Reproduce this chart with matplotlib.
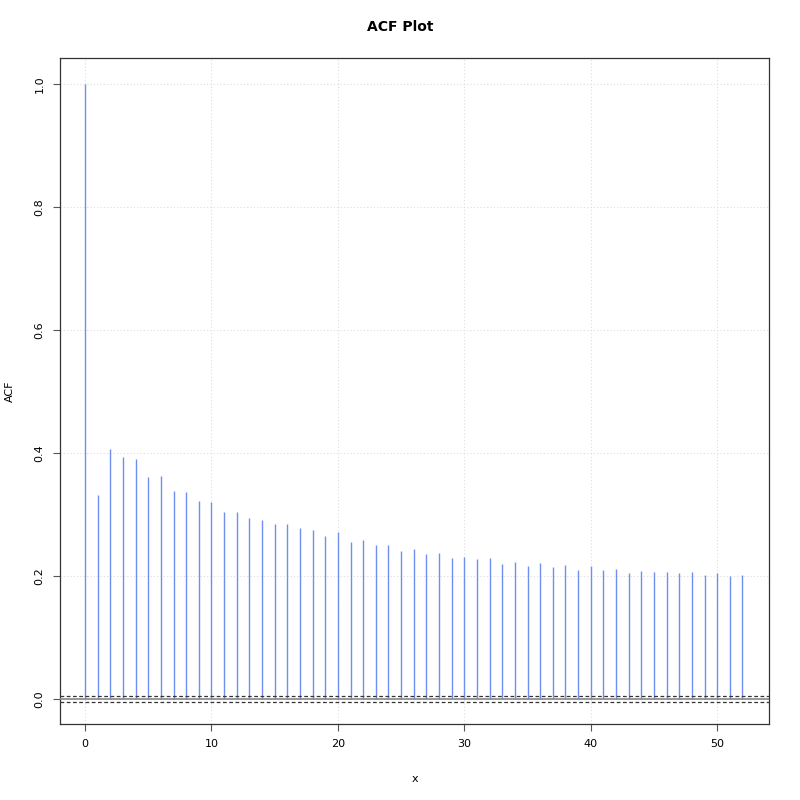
import matplotlib
matplotlib.use("Agg")
import matplotlib.pyplot as plt

# valores (lag 0..52)
lags = list(range(53))
acf = [1.0, 0.332, 0.407, 0.393, 0.390, 0.361, 0.363, 0.338, 0.337, 0.322,
       0.320, 0.304, 0.304, 0.294, 0.291, 0.285, 0.285, 0.278, 0.275, 0.265,
       0.272, 0.255, 0.259, 0.251, 0.251, 0.241, 0.244, 0.236, 0.237, 0.229,
       0.231, 0.228, 0.229, 0.220, 0.223, 0.216, 0.221, 0.214, 0.218, 0.210,
       0.216, 0.209, 0.211, 0.204, 0.208, 0.206, 0.206, 0.205, 0.206, 0.201,
       0.205, 0.200, 0.201]
conf = 0.005

fig = plt.figure(figsize=(8, 8), dpi=100)
ax = fig.add_axes([0.075, 0.095, 0.88625, 0.8325])

# grade pontilhada
for gx in [0, 10, 20, 30, 40, 50]:
    ax.axvline(gx, color='#dddddd', linestyle=(0, (1, 2)), linewidth=0.8, zorder=0)
for gy in [0.0, 0.2, 0.4, 0.6, 0.8, 1.0]:
    ax.axhline(gy, color='#dddddd', linestyle=(0, (1, 2)), linewidth=0.8, zorder=0)

# barras do ACF
ax.vlines(lags, 0, acf, colors='#6f8ff0', linewidth=1.0, zorder=2)

# linha zero e limites de confiança
ax.axhline(0, color='#888888', linewidth=1.2, zorder=3)
ax.axhline(conf, color='#333333', linestyle=(0, (3, 2)), linewidth=0.9, zorder=3)
ax.axhline(-conf, color='#333333', linestyle=(0, (3, 2)), linewidth=0.9, zorder=3)

ax.set_xlim(-1.98, 54.1)
ax.set_ylim(-0.0407, 1.042)
ax.set_xticks([0, 10, 20, 30, 40, 50])
ax.set_yticks([0.0, 0.2, 0.4, 0.6, 0.8, 1.0])
ax.set_yticklabels(['0.0', '0.2', '0.4', '0.6', '0.8', '1.0'], rotation=90, va='center')
ax.tick_params(labelsize=8, length=5, width=0.8, color='#555555', pad=6)

for s in ax.spines.values():
    s.set_color('#333333')
    s.set_linewidth(0.9)

ax.set_xlabel('x', fontsize=8, labelpad=18)
ax.set_ylabel('ACF', fontsize=8, labelpad=14)
fig.suptitle('ACF Plot', fontsize=10, fontweight='bold', y=0.975)

fig.savefig('out.png', dpi=100)
